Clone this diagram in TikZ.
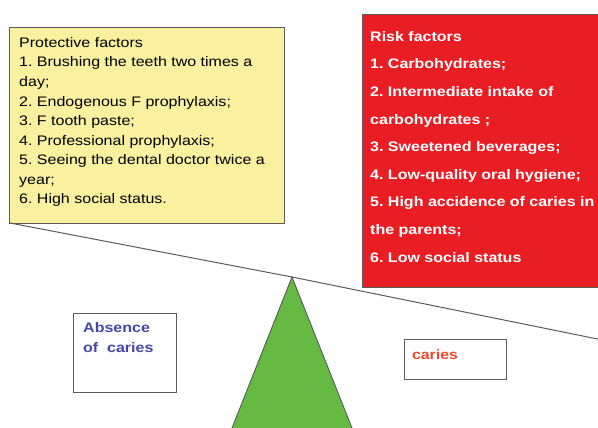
\documentclass[tikz,border=0pt]{standalone}
\usepackage{fontspec}
\setmainfont[FakeStretch=1.16]{Liberation Sans}
\frenchspacing
\definecolor{yel}{RGB}{249,240,160}
\definecolor{rd}{RGB}{232,30,36}
\definecolor{grn}{RGB}{102,186,68}
\definecolor{edge}{RGB}{90,90,90}
\definecolor{blu}{RGB}{70,70,170}
\definecolor{ora}{RGB}{240,70,40}
\tikzset{
  boxline/.style={draw=edge, line width=1.1pt},
  listtext/.style={anchor=north west, inner sep=0pt, align=left},
}
\begin{document}
\begin{tikzpicture}[x=1pt,y=-1pt]
\useasboundingbox (0,0) rectangle (598,428);
\clip (0,0) rectangle (598,428);
% yellow box
\node[boxline, fill=yel, minimum width=275pt, minimum height=196pt, anchor=north west, inner sep=0pt] (prot) at (9,27) {};
\node[listtext, font=\fontsize{13.8}{19.6}\selectfont] (protText) at (19,37) {Protective factors\\
1. Brushing the teeth two times a\\
day;\\
2. Endogenous F prophylaxis;\\
3. F tooth paste;\\
4. Professional prophylaxis;\\
5. Seeing the dental doctor twice a\\
year;\\
6. High social status.};
% red box
\node[boxline, fill=rd, minimum width=250pt, minimum height=273pt, anchor=north west, inner sep=0pt] (risk) at (362,14) {};
\node[listtext, text=white, font=\bfseries\fontsize{13.8}{27.6}\selectfont] (riskText) at (370,31) {Risk factors\\
1. Carbohydrates;\\
2. Intermediate intake of\\
carbohydrates ;\\
3. Sweetened beverages;\\
4. Low-quality oral hygiene;\\
5. High accidence of caries in\\
the parents;\\
6. Low social status};
% fulcrum
\coordinate (apex) at (292,277);
\coordinate (bl) at (232,428);
\coordinate (br) at (352,428);
\filldraw[fill=grn, draw=edge, line width=0.9pt] (bl) -- (apex) -- (br);
% beam
\coordinate (beamL) at (10,223);
\coordinate (beamR) at (600,339.5);
\draw[edge, line width=1pt] (beamL) -- (apex) -- (beamR);
% outcome boxes
\node[boxline, minimum width=103pt, minimum height=79pt, anchor=north west, inner sep=0pt] (absence) at (73,313) {};
\node[listtext, text=blu, font=\bfseries\fontsize{13.8}{20}\selectfont] (absText) at (83,322) {Absence\\of\ \ caries};
\node[boxline, minimum width=102pt, minimum height=40pt, anchor=north west, inner sep=0pt] (caries) at (404,339) {};
\node[listtext, text=ora, font=\bfseries\fontsize{13.6}{14}\selectfont] (cariesText) at (412,349) {caries};
\end{tikzpicture}
\end{document}
